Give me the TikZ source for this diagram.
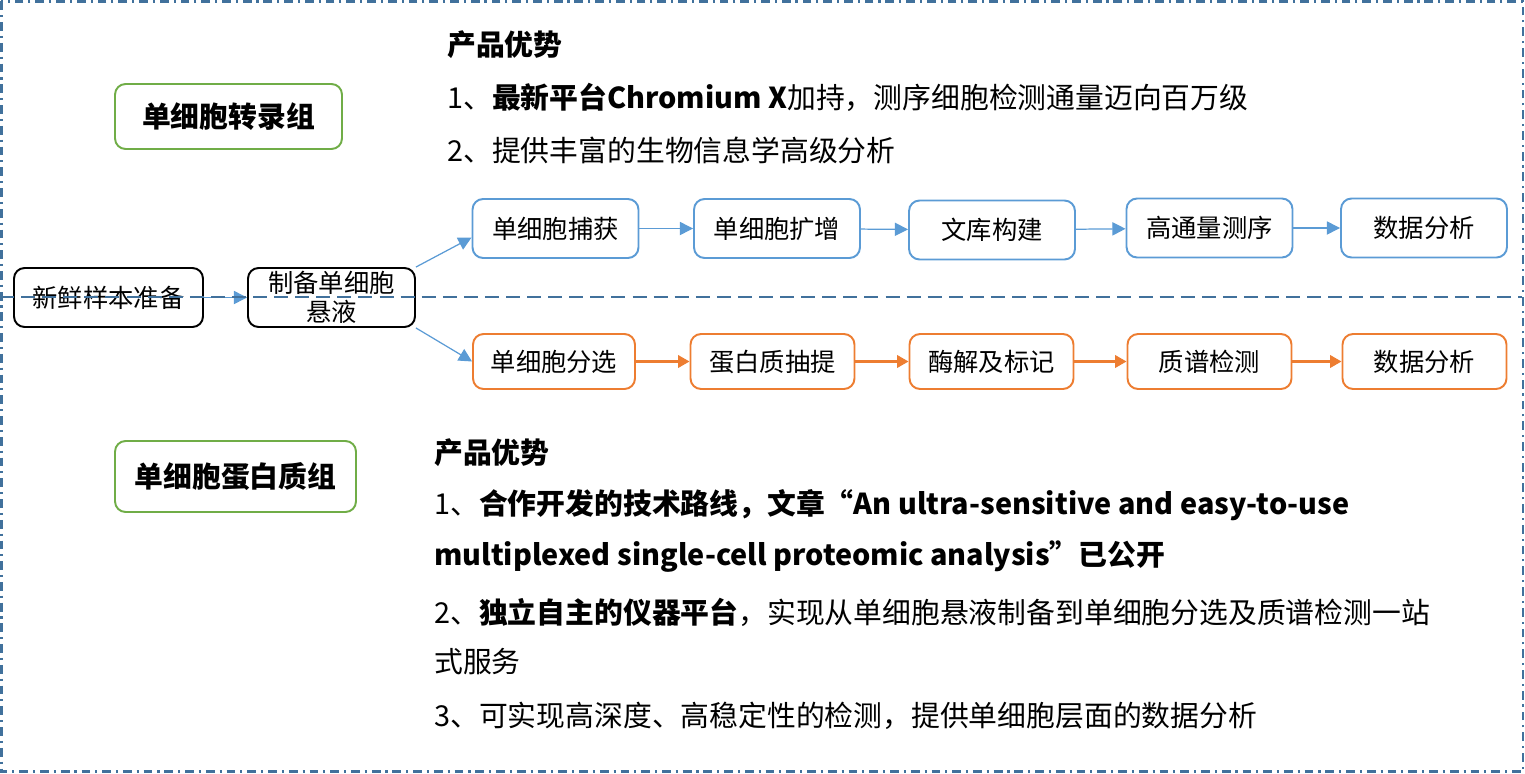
\documentclass[tikz,border=0pt]{standalone}
\usepackage{fontspec}
\setmainfont{Noto Sans CJK SC}
\usetikzlibrary{arrows.meta}
\definecolor{bluec}{HTML}{5B9BD5}
\definecolor{orangec}{HTML}{ED7D31}
\definecolor{greenc}{HTML}{70AD47}
\definecolor{borderc}{HTML}{41719C}
\tikzset{
  stepbox/.style={draw, fill=white, rounded corners=6pt, line width=1.1pt, inner sep=0pt, align=center,
    font=\fontsize{14.4}{16.5}\selectfont},
  bluebox/.style={stepbox, draw=bluec, minimum width=3.32cm, minimum height=1.18cm},
  orangebox/.style={stepbox, draw=orangec, minimum width=3.28cm, minimum height=1.1cm},
  blackbox/.style={stepbox, draw=black, minimum height=1.18cm},
  titlebox/.style={stepbox, draw=greenc, font=\fontsize{16.4}{19}\selectfont\bfseries},
  barrow/.style={draw=bluec, line width=0.7pt, -{Triangle[length=7.5pt,width=7.5pt]}},
  oarrow/.style={draw=orangec, line width=1.4pt, -{Triangle[length=6.5pt,width=7pt]}},
  txt/.style={anchor=west, inner sep=0pt, font=\fontsize{16.4}{19}\selectfont},
}
\begin{document}
\begin{tikzpicture}[x=0.02cm,y=-0.02cm]
\useasboundingbox (0,0) rectangle (1525,774);
% outer border
\draw[borderc, line width=1.5pt, dash pattern=on 5pt off 2.8pt on 1.2pt off 2.8pt] (1.5,1.5) rectangle (1523,771.5);

% titles
\node[titlebox, minimum width=4.54cm, minimum height=1.3cm] (t1) at (228.5,116.5) {单细胞转录组};
\node[titlebox, minimum width=4.82cm, minimum height=1.42cm] (t2) at (235.5,476.5) {单细胞蛋白质组};

% left boxes
\node[blackbox, minimum width=3.78cm] (s1) at (108.5,297.5) {新鲜样本准备};
\node[blackbox, minimum width=3.34cm] (s2) at (331.5,297.5) {制备单细胞\\悬液};

% blue row
\node[bluebox] (b1) at (555.5,228.5) {单细胞捕获};
\node[bluebox] (b2) at (777,228.5) {单细胞扩增};
\node[bluebox] (b3) at (992,230) {文库构建};
\node[bluebox] (b4) at (1209.5,228) {高通量测序};
\node[bluebox] (b5) at (1424,228) {数据分析};

% orange row
\node[orangebox, minimum width=3.24cm] (o1) at (554,361.5) {单细胞分选};
\node[orangebox] (o2) at (772.5,361.5) {蛋白质抽提};
\node[orangebox] (o3) at (991.5,361.5) {酶解及标记};
\node[orangebox] (o4) at (1209.5,361.5) {质谱检测};
\node[orangebox] (o5) at (1424.5,361.5) {数据分析};

% arrows
\draw[barrow] (s1.east) -- (s2.west);
\draw[barrow] (s2.north east) -- ([yshift=-0.18cm]b1.west);
\draw[barrow] (s2.south east) -- (o1.west);
\draw[barrow] (b1) -- (b2);
\draw[barrow] (b2) -- (b3);
\draw[barrow] (b3) -- (b4);
\draw[barrow] (b4) -- (b5);
\draw[oarrow] (o1) -- (o2);
\draw[oarrow] (o2) -- (o3);
\draw[oarrow] (o3) -- (o4);
\draw[oarrow] (o4) -- (o5);

% texts top
\node[txt] (h1) at (447,45) {\textbf{产品优势}};
\node[txt] (h1a) at (447,97) {1、\textbf{最新平台Chromium X}加持，测序细胞检测通量迈向百万级};
\node[txt] (h1b) at (447,150) {2、提供丰富的生物信息学高级分析};

% texts bottom
\node[txt] (h2) at (434,453) {\textbf{产品优势}};
\node[txt] (h2a) at (434,505) {1、\textbf{合作开发的技术路线，文章“An ultra-sensitive and easy-to-use}};
\node[txt] (h2b) at (434,557) {\textbf{multiplexed single-cell proteomic analysis”已公开}};
\node[txt] (h2c) at (434,612) {2、\textbf{独立自主的仪器平台}，实现从单细胞悬液制备到单细胞分选及质谱检测一站};
\node[txt] (h2d) at (434,662) {式服务};
\node[txt] (h2e) at (434,716) {3、可实现高深度、高稳定性的检测，提供单细胞层面的数据分析};

% middle divider
\coordinate (dl) at (0,297);
\coordinate (dr) at (1522,297);
\draw[borderc, line width=1.3pt, dash pattern=on 8pt off 4pt] (dl) -- (dr);
\end{tikzpicture}
\end{document}
